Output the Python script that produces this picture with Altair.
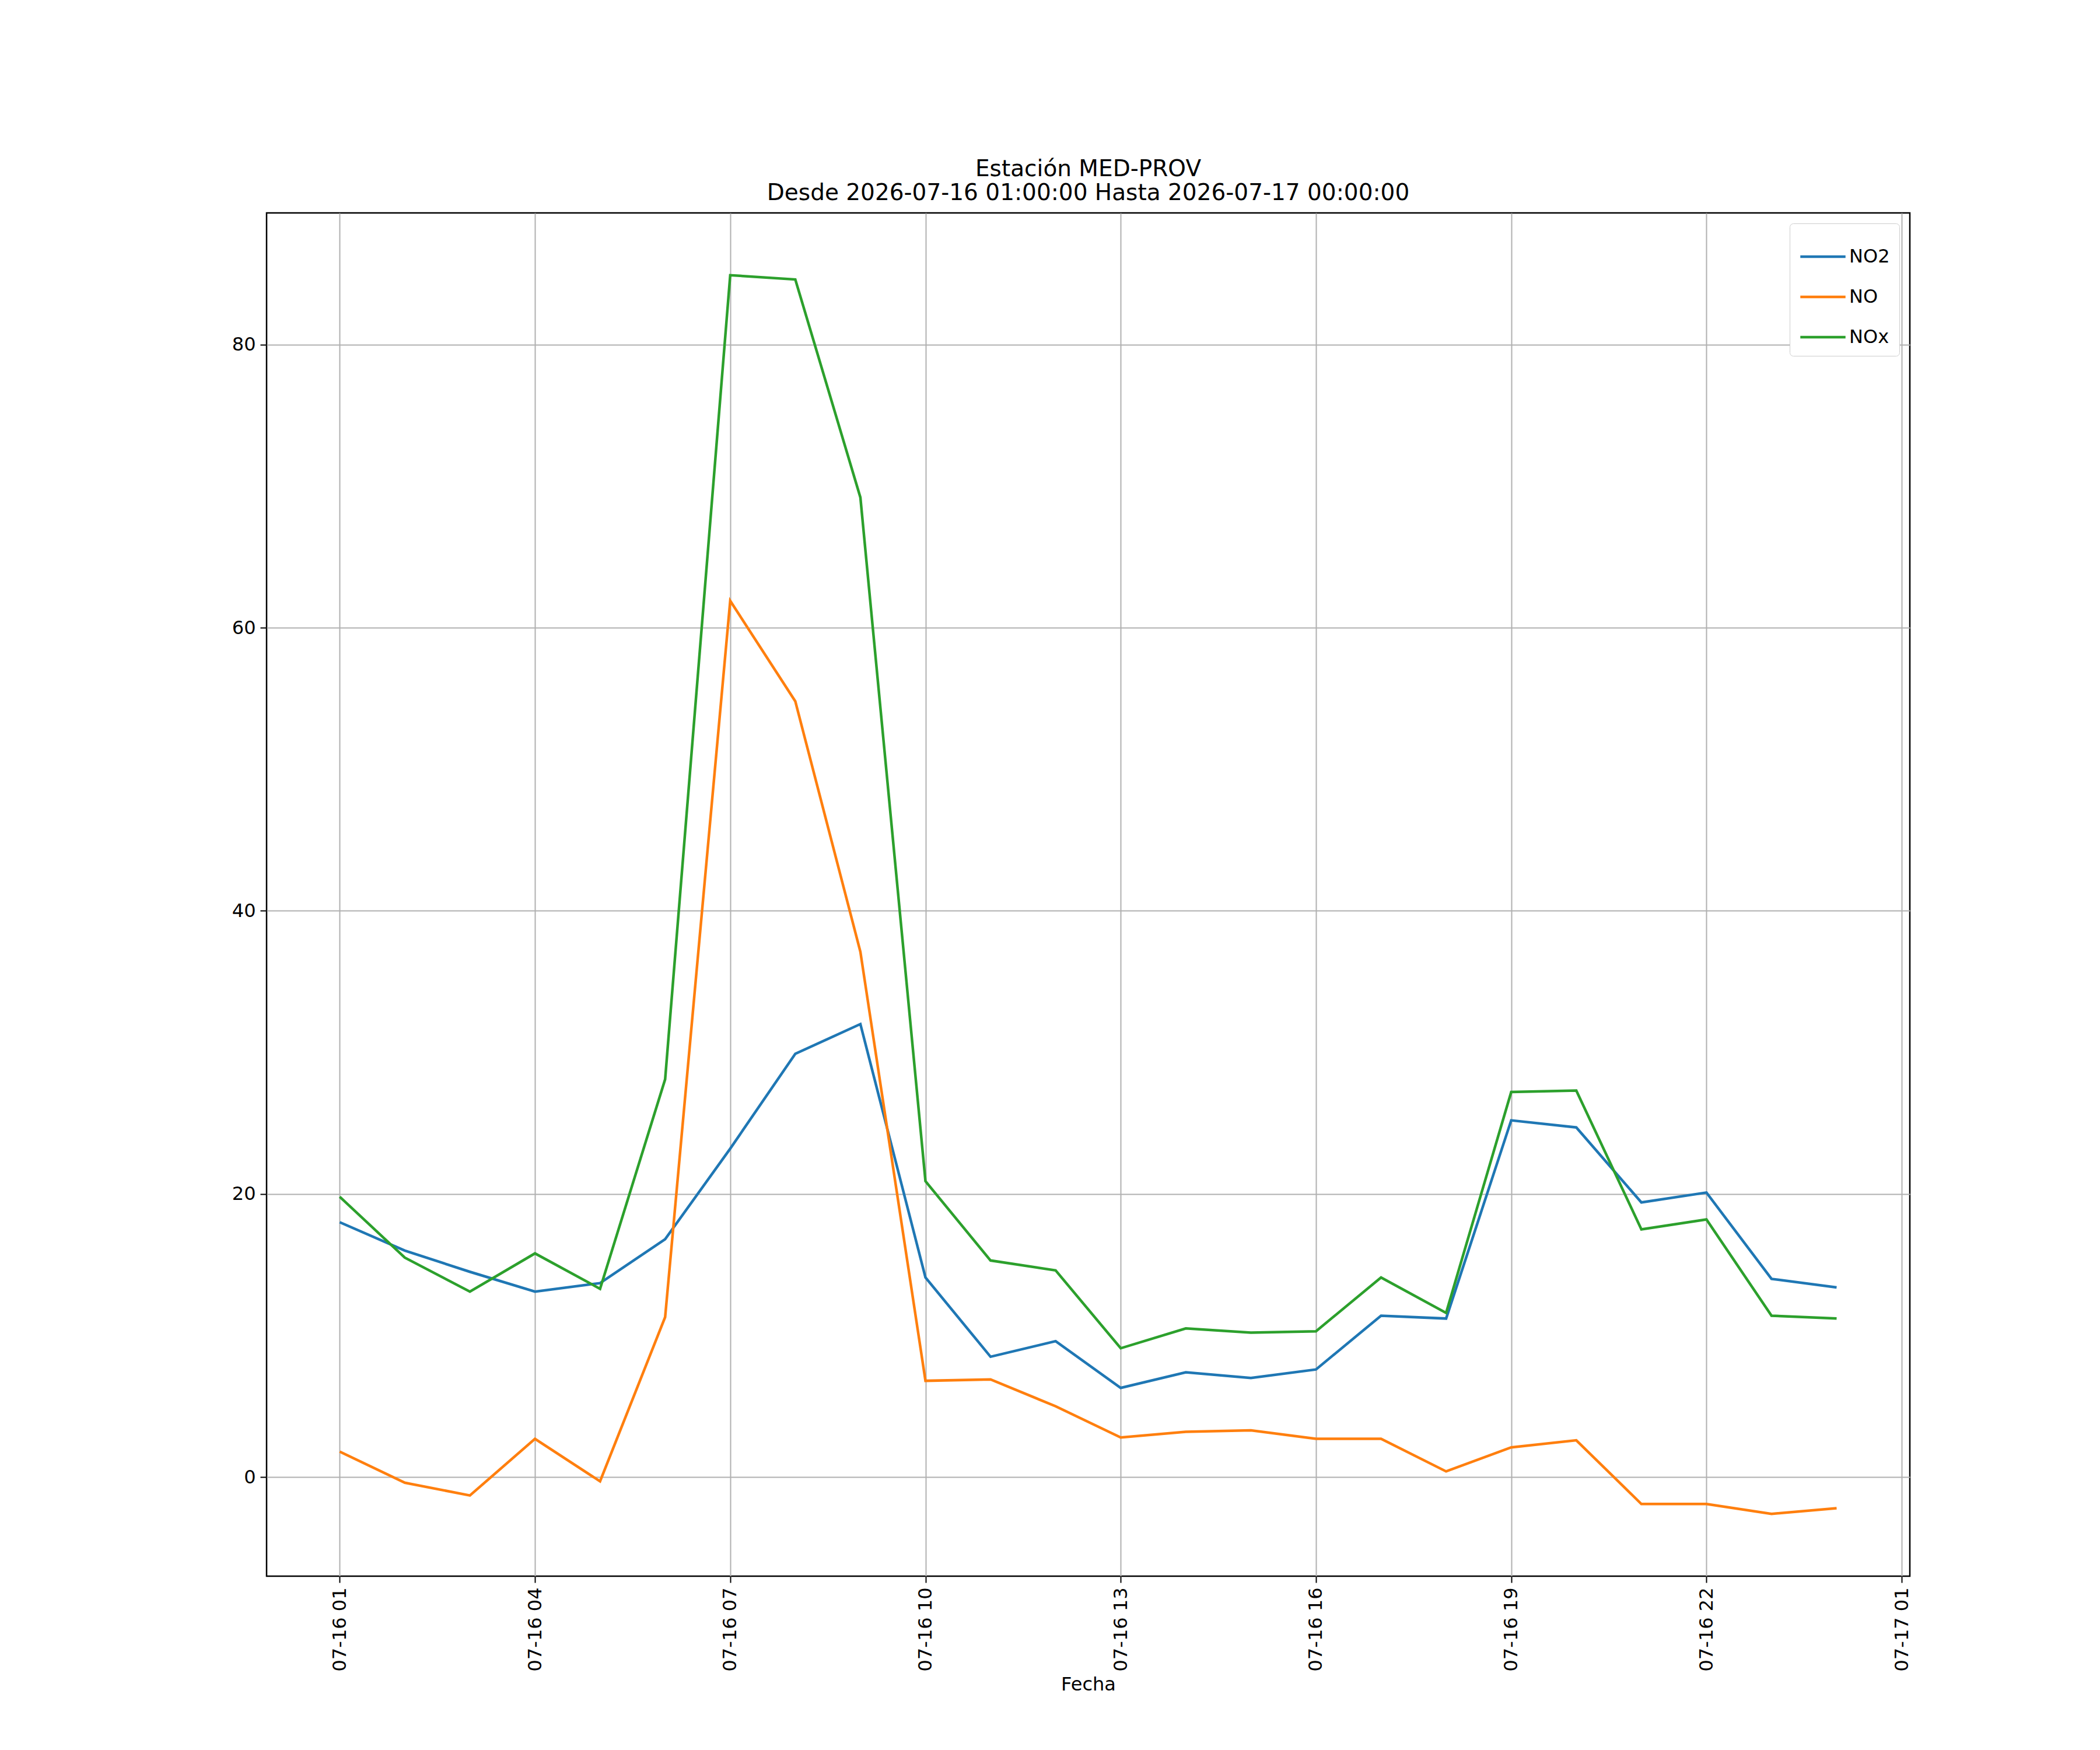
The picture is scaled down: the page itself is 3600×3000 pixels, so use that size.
import altair as alt
import pandas as pd

hours = pd.date_range("2026-07-16 01:00:00", periods=24, freq="h")
no2 = [18.0,16.0,14.5,13.1,13.7,16.8,23.2,29.9,32.0,14.1,8.5,9.6,6.3,7.4,7.0,7.6,11.4,11.2,25.2,24.7,19.4,20.1,14.0,13.4]
no = [1.8,-0.4,-1.3,2.7,-0.3,11.3,61.9,54.8,37.1,6.8,6.9,5.0,2.8,3.2,3.3,2.7,2.7,0.4,2.1,2.6,-1.9,-1.9,-2.6,-2.2]
nox = [19.8,15.5,13.1,15.8,13.3,28.1,84.9,84.6,69.2,20.9,15.3,14.6,9.1,10.5,10.2,10.3,14.1,11.6,27.2,27.3,17.5,18.2,11.4,11.2]
series = ["NO2", "NO", "NOx"]
colors = ["#1f77b4", "#ff7f0e", "#2ca02c"]

rows = []
for name, vals in zip(series, [no2, no, nox]):
    for t, v in zip(hours, vals):
        rows.append({"t": t.strftime("%Y-%m-%dT%H:%M:%S"), "v": v, "s": name})
df = pd.DataFrame(rows)

ticks = [alt.DateTime(year=2026, month=7, date=16 + (h // 24), hours=h % 24, utc=True).to_dict() for h in range(1, 26, 3)]

chart = alt.Chart(df).mark_line(strokeWidth=4.5, clip=True).encode(
    x=alt.X("t:T", title="Fecha",
            scale=alt.Scale(type="utc", domain=[alt.DateTime(year=2026, month=7, date=15, hours=23, minutes=52, seconds=34, utc=True).to_dict(),
                                               alt.DateTime(year=2026, month=7, date=17, hours=1, minutes=7, seconds=30, utc=True).to_dict()]),
            axis=alt.Axis(values=ticks, labelExpr="utcFormat(datum.value, '%m-%d %H')", labelAngle=-90, labelFontSize=32,
                          titleFontSize=32, titleFontWeight="normal", grid=True, gridColor="#b0b0b0", gridWidth=2,
                          tickColor="black", tickWidth=2, domain=False, labelColor="black", titleColor="black",
                          tickSize=11, labelPadding=8, titlePadding=8)),
    y=alt.Y("v:Q", title=None, scale=alt.Scale(domain=[-7.0, 89.3], nice=False, zero=False),
            axis=alt.Axis(values=[0, 20, 40, 60, 80], labelFontSize=32, grid=True, gridColor="#b0b0b0", gridWidth=2,
                          tickColor="black", tickWidth=2, domain=False, labelColor="black", tickSize=11, labelPadding=8)),
    color=alt.Color("s:N", scale=alt.Scale(domain=series, range=colors), sort=series,
                    legend=alt.Legend(title=None, orient="top-right", symbolType="stroke", symbolStrokeWidth=4.5,
                                      symbolSize=6000, labelFontSize=32, strokeColor="#cccccc", padding=16,
                                      rowPadding=12, fillColor="white", cornerRadius=6, offset=18)),
).properties(
    width=2817, height=2337,
    title=alt.Title(["Estación MED-PROV", "Desde 2026-07-16 01:00:00 Hasta 2026-07-17 00:00:00"],
                    fontSize=39, fontWeight="normal", color="black", offset=14),
    autosize=alt.AutoSizeParams(type="none"),
    padding={"left": 449, "top": 357, "right": 300, "bottom": 300},
).configure(font="DejaVu Sans").configure_view(stroke="black", strokeWidth=2.5)

chart.save("out.html", embed_options={"renderer": "svg", "actions": False})
